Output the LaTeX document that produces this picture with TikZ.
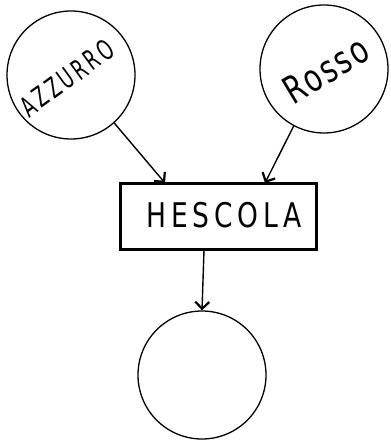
\documentclass[tikz,border=0pt]{standalone}
\usepackage{fontspec}
\setmainfont{DejaVu Sans}
\newfontfamily\spaced[LetterSpace=18]{DejaVu Sans}
\newfontfamily\plainhand[LetterSpace=8]{DejaVu Sans}
\usetikzlibrary{arrows.meta}
\begin{document}
\begin{tikzpicture}[x=1pt,y=-1pt,
  bubble/.style={circle,draw,line width=1.3pt,minimum size=128pt,inner sep=0pt},
  boxnode/.style={draw,line width=2.4pt,minimum width=196pt,minimum height=66pt,inner sep=0pt},
  flow/.style={line width=1.4pt,-{Straight Barb[length=7pt,width=14pt,line width=2.2pt]}},
  hand/.style={inner sep=0pt}]
\useasboundingbox (0,0) rectangle (390,443);
\node[bubble] (az) at (71,75) {};
\node[bubble] (ro) at (324,69) {};
\node[boxnode] (mx) at (218.5,216.5) {};
\node[bubble] (out) at (202,375) {};
\node[hand,rotate=36,xscale=0.64,font=\spaced\fontsize{28}{28}\selectfont] (azt) at (67,78) {AZZURRO};
\node[hand,rotate=31,xscale=0.75,font=\plainhand\fontsize{38}{38}\selectfont] (rot) at (326,70) {Rosso};
\node[hand,xscale=0.78,font=\spaced\fontsize{34}{34}\selectfont] (mxt) at (224,215) {HESCOLA};
\coordinate (a1) at (165,183);
\coordinate (a2) at (265,183);
\coordinate (a3) at (204,250);
\draw[flow] (az.-48) -- (a1);
\draw[flow] (ro.-118) -- (a2);
\draw[flow] (a3) -- (out.north);
\end{tikzpicture}
\end{document}
